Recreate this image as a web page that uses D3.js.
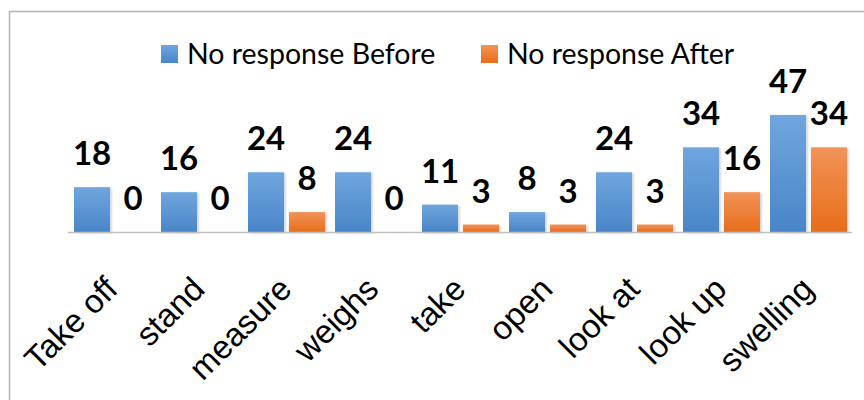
<!DOCTYPE html>
<html>
<head>
<meta charset="utf-8">
<script src="https://cdn.jsdelivr.net/npm/d3@7"></script>
<style>
  body { margin: 0; background: #fff; }
  svg { display: block; font-family: Lato, 'Open Sans', sans-serif; }
  .tick-label { font-size: 33px; fill: #000; }
  .value-label { font-size: 33px; font-weight: bold; fill: #000; }
  .legend-label { font-size: 28.5px; fill: #000; }
</style>
</head>
<body>
<svg width="864" height="400"></svg>
<script>
  const categories = ['Take off', 'stand', 'measure', 'weighs', 'take', 'open', 'look at', 'look up', 'swelling'];
  const beforeValues = [18, 16, 24, 24, 11, 8, 24, 34, 47];
  const afterValues = [0, 0, 8, 0, 3, 3, 3, 16, 34];
  const seriesNames = ['No response Before', 'No response After'];

  const svg = d3.select('svg');
  const width = +svg.attr('width');
  const height = +svg.attr('height');

  const data = categories.map((c, i) => ({ category: c, values: [beforeValues[i], afterValues[i]] }));

  // gradients for the two series
  const defs = svg.append('defs');
  const grads = [['blueGrad', '#70a6de', '#4985c8'], ['orangeGrad', '#f19358', '#e86d1a']];
  grads.forEach(g => {
    const lg = defs.append('linearGradient').attr('id', g[0])
      .attr('x1', 0).attr('y1', 0).attr('x2', 0).attr('y2', 1);
    lg.append('stop').attr('offset', '0%').attr('stop-color', g[1]);
    lg.append('stop').attr('offset', '100%').attr('stop-color', g[2]);
  });
  const shadow = defs.append('filter').attr('id', 'shadow')
    .attr('x', '-20%').attr('y', '-20%').attr('width', '150%').attr('height', '150%');
  shadow.append('feDropShadow').attr('dx', 1.5).attr('dy', 1).attr('stdDeviation', 1.2)
    .attr('flood-color', '#000').attr('flood-opacity', 0.2);

  const fills = ['url(#blueGrad)', 'url(#orangeGrad)'];

  // chart frame (top and left edges)
  svg.append('path')
    .attr('d', `M9.5,${height} V11.5 H${width}`)
    .attr('fill', 'none')
    .attr('stroke', '#b4b4b4')
    .attr('stroke-width', 1.5);

  const render = data => {
    const margin = { left: 69, right: 12, baseline: 232 };

    const xScale = d3.scaleBand()
      .domain(categories)
      .range([margin.left, width - margin.right]);

    const xInner = d3.scaleBand()
      .domain([0, 1])
      .range([5, xScale.bandwidth() - 5])
      .paddingInner(0.12);

    const yScale = d3.scaleLinear()
      .domain([0, 50])
      .range([margin.baseline, margin.baseline - 124.5]);

    const groups = svg.selectAll('g.cat').data(data)
      .enter().append('g')
        .attr('class', 'cat')
        .attr('transform', d => `translate(${xScale(d.category)},0)`);

    groups.selectAll('rect').data(d => d.values)
      .enter().append('rect')
        .attr('x', (v, i) => xInner(i))
        .attr('y', v => yScale(v))
        .attr('width', xInner.bandwidth())
        .attr('height', v => yScale(0) - yScale(v))
        .attr('fill', (v, i) => fills[i])
        .attr('filter', 'url(#shadow)');

    groups.selectAll('text.value-label').data(d => d.values)
      .enter().append('text')
        .attr('class', 'value-label')
        .attr('x', (v, i) => xInner(i) + xInner.bandwidth() / 2)
        .attr('y', v => yScale(v) - 22)
        .attr('text-anchor', 'middle')
        .text(v => v);

    // category axis
    const xAxis = d3.axisBottom(xScale).tickSize(0).tickPadding(0);
    const xAxisG = svg.append('g')
      .attr('transform', `translate(0,${margin.baseline})`)
      .call(xAxis);
    xAxisG.select('.domain')
      .attr('d', `M${xScale.range()[0] - 1},0.5H${xScale.range()[1]}`)
      .attr('stroke', '#bfbfbf')
      .attr('stroke-width', 1.5);
    xAxisG.selectAll('.tick text')
      .attr('class', 'tick-label')
      .attr('font-family', null)
      .attr('font-size', null)
      .attr('text-anchor', 'end')
      .attr('dy', 0)
      .attr('y', 0)
      .attr('transform', 'translate(7,59) rotate(-45)');

    // legend
    const legendX = [161, 481];
    const legend = svg.selectAll('g.legend').data(seriesNames)
      .enter().append('g')
        .attr('class', 'legend')
        .attr('transform', (d, i) => `translate(${legendX[i]},45)`);
    legend.append('rect')
      .attr('width', 17).attr('height', 18)
      .attr('fill', (d, i) => fills[i]);
    legend.append('text')
      .attr('class', 'legend-label')
      .attr('x', 26).attr('y', 18.5)
      .text(d => d);
  };

  render(data);
</script>
</body>
</html>
